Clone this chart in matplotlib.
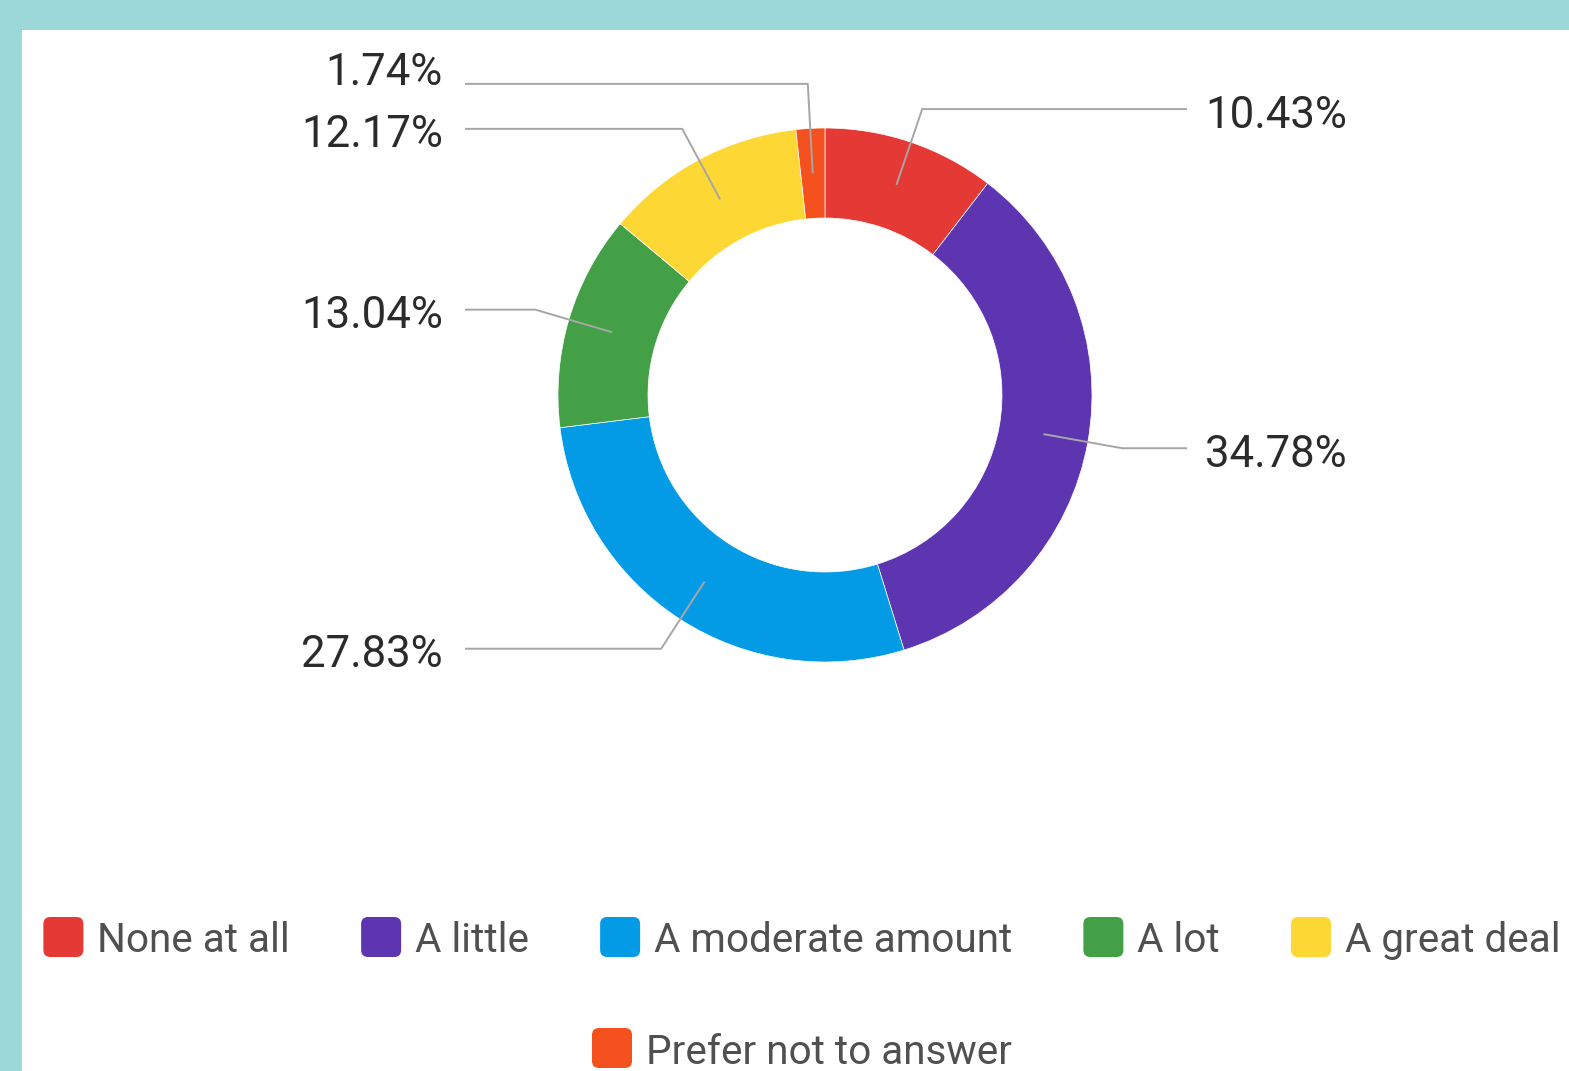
import numpy as np
import matplotlib.pyplot as plt
from matplotlib.patches import Rectangle, FancyBboxPatch

# Survey answers and their shares (percent)
categories = ['None at all', 'A little', 'A moderate amount', 'A lot',
              'A great deal', 'Prefer not to answer']
shares = [10.43, 34.78, 27.83, 13.04, 12.17, 1.74]
colors = ['#e53935', '#5e35b1', '#039be5', '#43a047', '#fdd835', '#f4511e']

W, H = 1569, 1071
plt.rcParams['font.family'] = ['Roboto', 'DejaVu Sans']

fig = plt.figure(figsize=(W / 100, H / 100), dpi=100, facecolor='#9dd8d8')
ax = fig.add_axes([0, 0, 1, 1])

# white card on the teal background
ax.add_patch(Rectangle((22, 0), W - 22, H - 30, facecolor='white',
                       edgecolor='none', zorder=0))

# donut, centre given in top-left pixel terms
cx, cy = 825, 395
r_out, r_in = 267, 177
ax.pie(shares, colors=colors, startangle=90, counterclock=False,
       radius=r_out, center=(cx, H - cy),
       wedgeprops=dict(width=r_out - r_in, edgecolor='white', linewidth=0.5))
ax.set_xlim(0, W)
ax.set_ylim(0, H)
ax.set_aspect('equal')
ax.axis('off')

# mid angle of every slice (degrees, counter-clockwise from +x)
cum = np.cumsum([0] + shares[:-1])
mids = 90 - (cum + np.array(shares) / 2) * 3.6


def spread(ys, min_gap):
    # push labels on the same side apart, upwards
    out = dict(ys)
    for side in (1, -1):
        idx = [i for i, a in enumerate(mids) if np.sign(np.cos(np.radians(a))) == side]
        idx.sort(key=lambda i: -out[i])
        for k in range(1, len(idx)):
            if out[idx[k - 1]] - out[idx[k]] < min_gap:
                out[idx[k]] = out[idx[k - 1]] - min_gap
    return out


r_mid = (r_out + r_in) / 2
base = {i: cy - 302 * np.sin(np.radians(a)) for i, a in enumerate(mids)}
line_y = spread(base, 45)
text_y = spread({i: y + 2 for i, y in base.items()}, 62)

for i, a in enumerate(mids):
    t = np.radians(a)
    x0, y0 = cx + r_mid * np.cos(t), cy - r_mid * np.sin(t)
    yl = line_y[i]
    # walk along the radius until the line height is reached
    rb = (cy - yl) / np.sin(t)
    xb = cx + rb * np.cos(t)
    right = np.cos(t) > 0
    xe = 1187 if right else 465
    ax.plot([x0, xb, xe], [H - y0, H - yl, H - yl], color='#a6a6a6',
            lw=1.4, solid_capstyle='butt', zorder=3)
    ax.text(1205 if right else 443, H - text_y[i], f'{shares[i]:.2f}%',
            ha='left' if right else 'right', va='center_baseline',
            fontsize=31.5, color='#2b2b2b')

# legend drawn by hand: rounded swatches, two centred rows
fig.canvas.draw()
rend = fig.canvas.get_renderer()
sw, gap, spacing, fs = 40, 14, 71, 29.2
rows = [categories[:5], categories[5:]]
row_y = [937, 1048]
for names, yr in zip(rows, row_y):
    widths = []
    for n in names:
        t = ax.text(0, 0, n, fontsize=fs)
        widths.append(t.get_window_extent(rend).width)
        t.remove()
    total = sum(sw + gap + w for w in widths) + spacing * (len(names) - 1)
    x = 802 - total / 2
    for n, w in zip(names, widths):
        c = colors[categories.index(n)]
        ax.add_patch(FancyBboxPatch((x + 4, H - yr - 16), sw - 8, 32,
                                    boxstyle='round,pad=4,rounding_size=7',
                                    facecolor=c, edgecolor='none'))
        ax.text(x + sw + gap, H - yr, n, fontsize=fs, color='#505050',
                ha='left', va='center_baseline')
        x += sw + gap + w + spacing

fig.savefig('out.png', dpi=100, facecolor=fig.get_facecolor())
